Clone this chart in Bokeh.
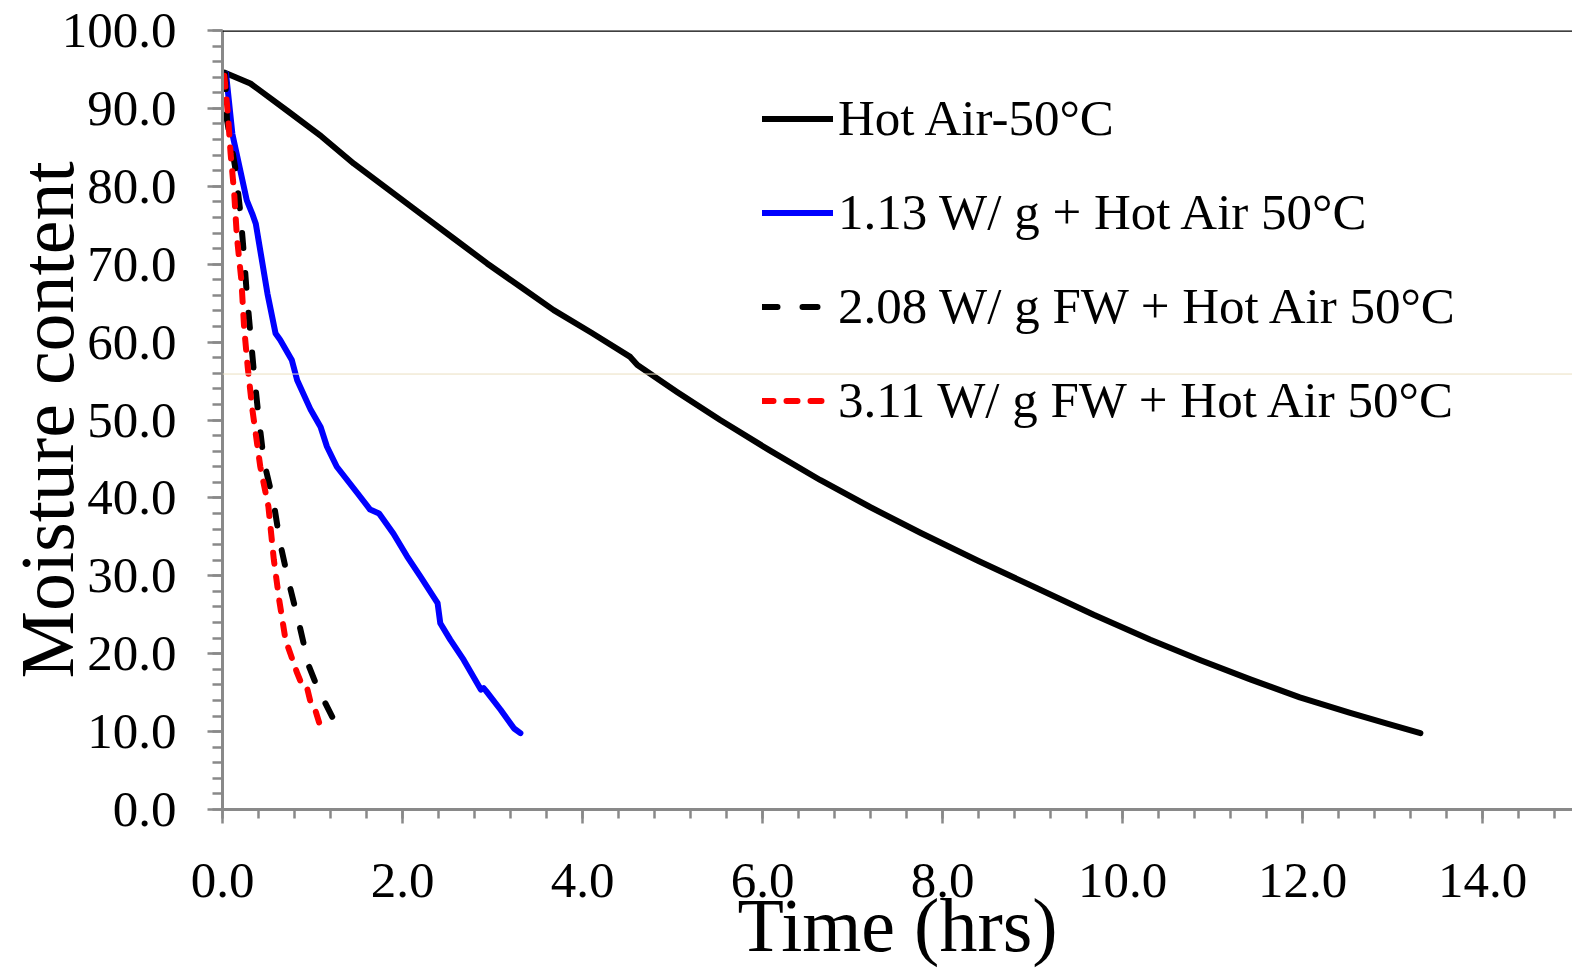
import math
from bokeh.plotting import figure
from bokeh.models import (Range1d, FixedTicker, PrintfTickFormatter, Legend, LegendItem,
                          Span)
from bokeh.embed import file_html
from bokeh.resources import INLINE

# ---- data ----
hot_t = [0.02, 0.31, 0.72, 1.10, 1.46, 1.83, 2.20, 2.57, 2.94, 3.31, 3.68, 4.10, 4.53, 4.61,
         5.05, 5.53, 6.08, 6.64, 7.20, 7.76, 8.40, 9.05, 9.68, 10.31, 10.86, 11.42, 11.97,
         12.53, 12.95, 13.31]
hot_m = [94.6, 93.2, 89.7, 86.4, 82.9, 79.7, 76.5, 73.3, 70.1, 67.1, 64.1, 61.2, 58.1, 57.05,
         53.6, 50.0, 46.1, 42.3, 38.8, 35.5, 31.9, 28.4, 25.0, 21.8, 19.2, 16.7, 14.4,
         12.4, 11.0, 9.8]

w113_t = [0.04, 0.11, 0.27, 0.33, 0.37, 0.50, 0.59, 0.64, 0.77, 0.83, 0.98, 1.09, 1.16, 1.27,
          1.50, 1.64, 1.74, 1.90, 2.05, 2.20, 2.39, 2.42, 2.53, 2.68, 2.87, 2.90, 2.93, 3.09,
          3.24, 3.31]
w113_m = [94.4, 86.7, 78.2, 76.5, 75.2, 66.2, 61.1, 60.3, 57.7, 55.1, 51.3, 49.1, 46.6, 44.0,
          40.6, 38.5, 38.0, 35.4, 32.5, 29.9, 26.5, 23.9, 21.8, 19.2, 15.4, 15.6, 15.2, 12.8,
          10.4, 9.8]

w208_t = [0.03, 0.05, 0.14, 0.20, 0.24, 0.27, 0.31, 0.35, 0.40, 0.46, 0.57, 0.64, 0.74, 0.85,
          0.96, 1.05, 1.14, 1.25, 1.35]
w208_m = [94.4, 88.5, 82.5, 76.5, 70.9, 66.2, 61.1, 56.0, 50.5, 44.7, 39.3, 34.2, 29.0, 23.9,
          18.4, 15.8, 13.7, 11.2, 9.2]

w311_t = [0.02, 0.06, 0.09, 0.13, 0.16, 0.21, 0.24, 0.28, 0.33, 0.42, 0.51, 0.57, 0.63, 0.70,
          0.83, 0.89, 0.94, 0.98, 1.03, 1.11]
w311_m = [94.2, 89.3, 84.2, 79.1, 73.5, 67.9, 61.9, 56.8, 51.5, 44.0, 38.9, 32.1, 26.9, 21.8,
          17.5, 15.8, 15.6, 13.7, 12.8, 9.8]

series_names = ["Hot Air-50°C", "1.13 W/ g + Hot Air 50°C",
                "2.08 W/ g FW + Hot Air 50°C", "3.11 W/ g FW + Hot Air 50°C"]
x_ticks = [0, 2, 4, 6, 8, 10, 12, 14]
y_ticks = [0, 10, 20, 30, 40, 50, 60, 70, 80, 90, 100]
x_label = "Time (hrs)"
y_label = "Moisture content"

FONT = "Liberation Serif"
GRAY = "#898989"

W, H = 1572, 969
LEFT, TOP, BOTTOM = 222, 30, 159
frame_w = W - LEFT
x_end = frame_w / 90.0

p = figure(width=W, height=H, output_backend="svg", toolbar_location=None,
           x_range=Range1d(0, x_end), y_range=Range1d(0, 100),
           min_border_left=LEFT, min_border_right=0, min_border_top=TOP,
           min_border_bottom=BOTTOM)
p.outline_line_color = None
p.grid.visible = False
p.background_fill_color = "white"

for ax in (p.xaxis[0], p.yaxis[0]):
    ax.axis_line_color = GRAY
    ax.axis_line_width = 3
    ax.major_tick_line_color = GRAY
    ax.minor_tick_line_color = GRAY
    ax.major_tick_line_width = 2.5
    ax.minor_tick_line_width = 2.5
    ax.major_tick_in = 0
    ax.minor_tick_in = 0
    ax.major_label_text_font = FONT
    ax.major_label_text_font_size = "51px"
    ax.major_label_text_color = "black"
    ax.formatter = PrintfTickFormatter(format="%.1f")
    ax.axis_label_text_font = FONT
    ax.axis_label_text_font_size = "76px"
    ax.axis_label_text_font_style = "normal"
    ax.axis_label_text_color = "black"

p.xaxis.ticker = FixedTicker(ticks=x_ticks,
                             minor_ticks=[i * 0.4 for i in range(0, 38)])
p.yaxis.ticker = FixedTicker(ticks=y_ticks, minor_ticks=list(range(0, 101, 2)))
p.xaxis.major_tick_out = 14
p.xaxis.minor_tick_out = 9
p.yaxis.major_tick_out = 15
p.yaxis.minor_tick_out = 10
p.xaxis.major_label_standoff = 40
p.yaxis.major_label_standoff = 31
p.xaxis.axis_label = x_label
p.yaxis.axis_label = y_label
p.xaxis.axis_label_standoff = -17
p.yaxis.axis_label_standoff = -30

# top border line
p.add_layout(Span(location=100, dimension="width", line_color="black", line_width=2.5))
# faint horizontal artefact line
p.add_layout(Span(location=55.9, dimension="width", line_color="#eadfc0", line_width=1))

r1 = p.line(hot_t, hot_m, line_color="black", line_width=6, line_join="round",
            line_cap="round")
r2 = p.line(w113_t, w113_m, line_color="#0000ff", line_width=6, line_join="round",
            line_cap="round")
r3 = p.line(w208_t, w208_m, line_color="black", line_width=6, line_dash="15 25",
            line_join="round", line_cap="round")
r4 = p.line(w311_t, w311_m, line_color="#ff0000", line_width=6, line_dash="11 13",
            line_join="round", line_cap="round")

legend = Legend(items=[LegendItem(label=series_names[0], renderers=[r1]),
                       LegendItem(label=series_names[1], renderers=[r2]),
                       LegendItem(label=series_names[2], renderers=[r3]),
                       LegendItem(label=series_names[3], renderers=[r4])],
                location=(540, 380))
legend.label_text_font = FONT
legend.label_text_font_size = "51px"
legend.label_text_color = "black"
legend.glyph_width = 71
legend.glyph_height = 57
legend.label_height = 57
legend.spacing = 36
legend.padding = 0
legend.margin = 0
legend.label_standoff = 5
legend.border_line_color = None
legend.background_fill_alpha = 0
p.add_layout(legend)

open("out.html", "w").write(file_html(p, INLINE))
